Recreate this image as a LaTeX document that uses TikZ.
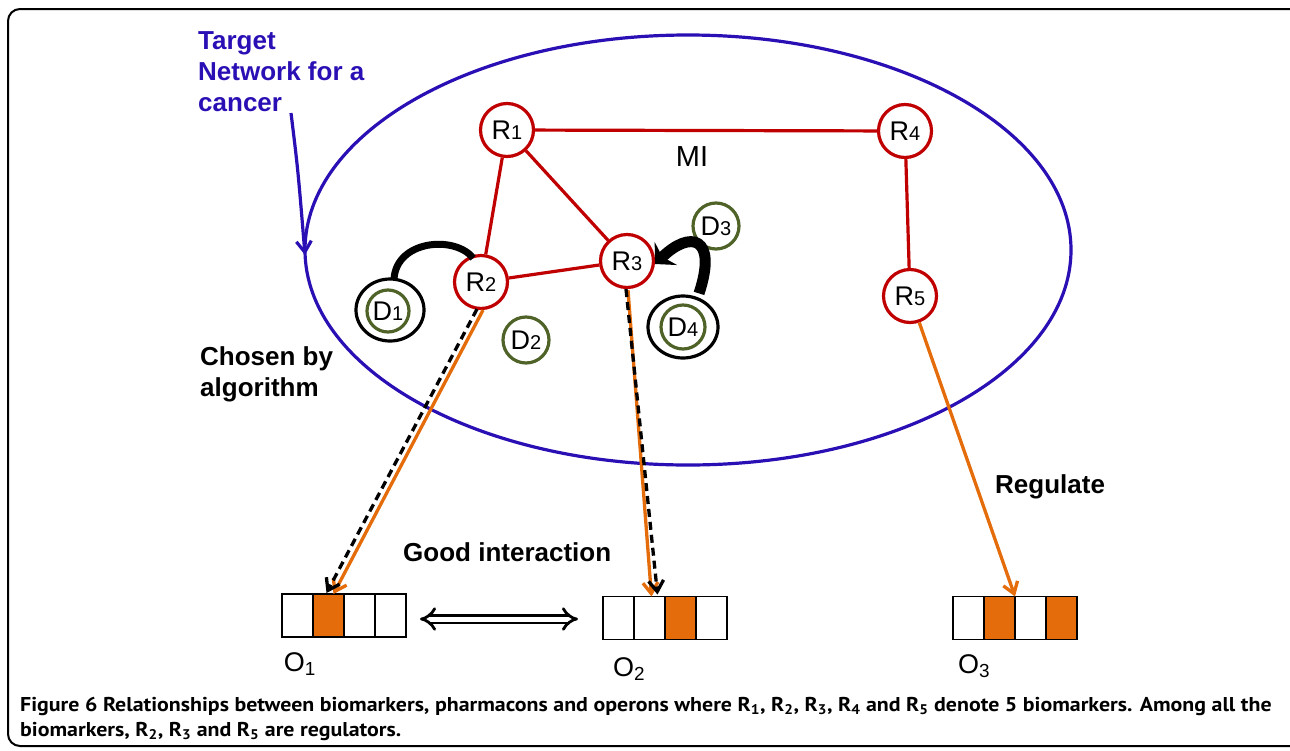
\documentclass[tikz,border=0pt]{standalone}
\usepackage{fontspec}
\setmainfont{Liberation Sans}
\newfontfamily\capfont{PT Sans}
\usetikzlibrary{arrows.meta,calc,shapes.geometric}
\definecolor{rred}{HTML}{C00000}
\definecolor{dgreen}{HTML}{4F6228}
\definecolor{nblue}{HTML}{2A10B4}
\definecolor{oorange}{HTML}{E46C0A}
\newcommand{\lbl}[2]{#1{\fontsize{20}{20}\selectfont #2}}
\begin{document}
\begin{tikzpicture}[x=1pt,y=-1pt,
  rnode/.style={circle,draw=rred,line width=3.2pt,minimum size=53pt,inner sep=0pt,fill=white,font=\fontsize{27}{27}\selectfont},
  dnode/.style={circle,draw=dgreen,line width=3.2pt,minimum size=46pt,inner sep=0pt,font=\fontsize{27}{27}\selectfont},
  dring/.style={ellipse,draw=black,line width=3.2pt,minimum width=68pt,minimum height=62pt,inner sep=0pt},
  redge/.style={draw=rred,line width=3.2pt},
  btext/.style={font=\fontsize{26}{31}\selectfont\bfseries,align=left,inner sep=0pt},
  cell/.style={draw=black,line width=1.8pt,minimum width=31pt,minimum height=43pt,inner sep=0pt,outer sep=0pt,fill=white},
  ocell/.style={cell,fill=oorange},
  oarrow/.style={draw=oorange,line width=3.3pt,-{Straight Barb[length=11pt,width=15pt,line width=3.3pt]}},
  darrow/.style={draw=black,line width=3.3pt,dash pattern=on 8pt off 5pt,-{Straight Barb[length=11pt,width=15pt,line width=3.3pt]}},
  olabel/.style={font=\fontsize{27}{27}\selectfont,inner sep=0pt}
]
\useasboundingbox (0,0) rectangle (1290,750);
% frame
\draw[line width=2pt,rounded corners=12pt] (1310,9) -- (8,9) -- (8,746) -- (1310,746);
% ellipse
\node[ellipse,draw=nblue,line width=3.2pt,minimum width=766pt,minimum height=430pt,inner sep=0pt] (net) at (688,250) {};
% annotation
\node[btext,text=nblue,anchor=north west] (tn) at (198,31) {Target\\Network for a\\cancer};
\coordinate (tnA) at (291,113);
\coordinate (tnB) at (305,255);
\draw[nblue,line width=3.2pt,-{Straight Barb[length=11pt,width=15pt,line width=3.2pt]}] (tnA) .. controls (298,170) .. (tnB);
% R nodes
\node[rnode] (R1) at (507,130) {\lbl{R}{1}};
\node[rnode] (R4) at (905,131) {\lbl{R}{4}};
\node[rnode] (R2) at (481,282) {\lbl{R}{2}};
\node[rnode] (R3) at (627,261) {\lbl{R}{3}};
\node[rnode] (R5) at (910,296) {\lbl{R}{5}};
\draw[redge] (R1) -- (R4);
\draw[redge] (R1) -- (R2);
\draw[redge] (R1) -- (R3);
\draw[redge] (R2) -- (R3);
\draw[redge] (R4) -- (R5);
\node[font=\fontsize{29}{29}\selectfont] (mi) at (692,157) {MI};
% D nodes
\node[dnode] (D3) at (716,226) {\lbl{D}{3}};
\node[dnode] (D2) at (526,340) {\lbl{D}{2}};
\node[dring] (D1o) at (390,310) {};
\node[dnode,minimum size=42pt] (D1) at (388,311) {\lbl{D}{1}};
\node[dring,minimum width=70pt] (D4o) at (683,327) {};
\node[dnode,minimum size=44pt] (D4) at (683,327) {\lbl{D}{4}};
% thick black arcs
\draw[line width=7pt] ($(D1o.north)+(4,2)$) .. controls (396,240) and (455,235) .. ($(R2.north west)+(12,-4)$);
\draw[line width=11pt,-{Stealth[length=15pt,width=32pt]}] ($(D4o.north)+(16,-1)$) .. controls (718,236) and (690,230) .. ($(R3.east)+(0,3)$);
% operons
\node[cell] (a1) at (297.5,615.5) {};
\node[ocell,anchor=west] (a2) at (a1.east) {};
\node[cell,anchor=west] (a3) at (a2.east) {};
\node[cell,anchor=west] (a4) at (a3.east) {};
\node[cell] (b1) at (618.5,618) {};
\node[cell,anchor=west] (b2) at (b1.east) {};
\node[ocell,anchor=west] (b3) at (b2.east) {};
\node[cell,anchor=west] (b4) at (b3.east) {};
\node[cell] (c1) at (968.5,618) {};
\node[ocell,anchor=west] (c2) at (c1.east) {};
\node[cell,anchor=west] (c3) at (c2.east) {};
\node[ocell,anchor=west] (c4) at (c3.east) {};
\node[olabel] (O1) at (300,664) {O\textsubscript{1}};
\node[olabel] (O2) at (629,669) {O\textsubscript{2}};
\node[olabel] (O3) at (974,666) {O\textsubscript{3}};
% regulate arrows
\draw[oarrow] ($(R2.south)+(2,0)$) -- ($(a2.north)+(5,0)$);
\draw[darrow] ($(R2.south)+(-4,-1)$) -- ($(a2.north)+(-2,-1)$);
\draw[oarrow] ($(R3.south)+(1,1)$) -- ($(b2.north)+(2,0)$);
\draw[darrow] ($(R3.south)+(-1,0)$) -- ($(b2.north)+(8,-2)$);
\draw[oarrow] (R5) -- (c2.north east);
% double arrow
\coordinate (dl) at (420,619);
\coordinate (dr) at (578,619);
\draw[double,double distance=5pt,line width=2.8pt,{Implies}-{Implies}] (dl) -- (dr);
% labels
\node[btext,anchor=north west] (cb) at (200,346) {Chosen by\\algorithm};
\node[btext,anchor=base west] (rg) at (995,493) {Regulate};
\node[btext,anchor=base west] (gi) at (403,561) {Good interaction};
% caption
\node[anchor=base west,inner sep=0pt,font=\capfont\fontsize{20}{20}\selectfont\bfseries] (cap1) at (20,711) {\scalebox{1.095}[1]{Figure 6 Relationships between biomarkers, pharmacons and operons where R\textsubscript{1}, R\textsubscript{2}, R\textsubscript{3}, R\textsubscript{4} and R\textsubscript{5} denote 5 biomarkers. Among all the}};
\node[anchor=base west,inner sep=0pt,font=\capfont\fontsize{20}{20}\selectfont\bfseries] (cap2) at (20,736) {\scalebox{1.095}[1]{biomarkers, R\textsubscript{2}, R\textsubscript{3} and R\textsubscript{5} are regulators.}};
\end{tikzpicture}
\end{document}
